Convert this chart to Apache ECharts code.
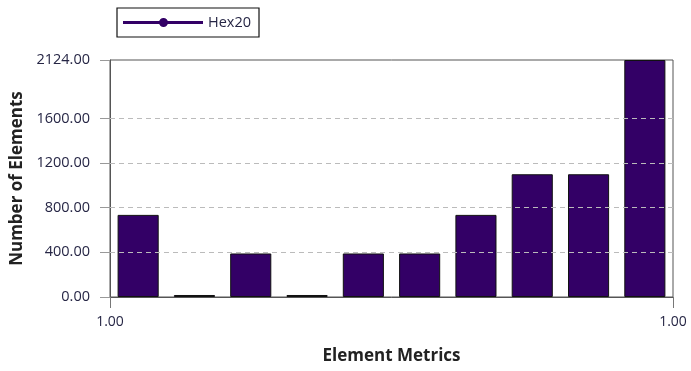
<!DOCTYPE html>
<html><head><meta charset="utf-8">
<script src="https://cdn.jsdelivr.net/npm/echarts@6/dist/echarts.min.js"></script>
<style>html,body{margin:0;padding:0;background:#fff}#c{width:691px;height:371px}</style>
</head><body><div id="c"></div>
<script>
var categories = ['b1','b2','b3','b4','b5','b6','b7','b8','b9','b10'];
var hex20 = [736, 18, 390, 18, 390, 390, 736, 1100, 1100, 2124];
var yTicks = [0, 400, 800, 1200, 1600, 2124];
var gridValues = [400, 800, 1200, 1600];
var xEndLabel = '1.00';
var seriesName = 'Hex20';

var chart = echarts.init(document.getElementById('c'));
var font = '"Open Sans", "Noto Sans", sans-serif';
var txt = '#262645';
chart.setOption({
  animation: false,
  textStyle: {fontFamily: font},
  legend: {
    left: 117, top: 8,
    padding: [7, 8, 7, 6],
    borderColor: '#111', borderWidth: 1.2,
    itemWidth: 80, itemHeight: 9, itemGap: 5,
    textStyle: {fontSize: 14.5, color: txt, fontFamily: font},
    data: [{name: seriesName, icon: 'path://M0,3 L80,3 L80,6 L0,6 Z M36,4.5 A4.5,4.5 0 1 1 45,4.5 A4.5,4.5 0 1 1 36,4.5 Z',
      itemStyle: {color: '#330066', borderColor: '#330066', borderWidth: 0}}]
  },
  grid: {left: 110, right: 18, top: 60, bottom: 74, show: true, borderColor: '#555', borderWidth: 1},
  xAxis: [{
    type: 'category', data: categories, position: 'bottom',
    axisLine: {lineStyle: {color: '#555'}}, axisTick: {show: false}, axisLabel: {show: false},
    name: 'Element Metrics', nameLocation: 'middle', nameGap: 51,
    nameTextStyle: {fontSize: 17, fontWeight: 'bold', color: '#222', fontFamily: font}
  }, {
    type: 'value', min: 0, max: 1, interval: 1, position: 'bottom',
    axisLine: {show: false}, splitLine: {show: false},
    axisTick: {show: true, length: 11, lineStyle: {color: '#777'}},
    axisLabel: {formatter: function () { return xEndLabel; }, fontSize: 14, color: txt, margin: 18, fontFamily: font}
  }],
  yAxis: {
    type: 'value', min: 0, max: 2124,
    axisLine: {show: true, lineStyle: {color: '#555'}},
    axisTick: {show: true, length: 10, customValues: yTicks, lineStyle: {color: '#999'}},
    axisLabel: {customValues: yTicks, margin: 20, fontSize: 14.5, color: txt, fontFamily: font,
      formatter: function (v) { return v.toFixed(2); }},
    splitLine: {show: false},
    name: 'Number of Elements', nameLocation: 'middle', nameGap: 82,
    nameTextStyle: {fontSize: 17, fontWeight: 'bold', color: '#222', fontFamily: font}
  },
  series: [{
    name: seriesName, type: 'bar', data: hex20, xAxisIndex: 0,
    barCategoryGap: '27%',
    itemStyle: {color: '#330066', borderColor: '#111', borderWidth: 1},
    markLine: {
      silent: true, symbol: ['none', 'none'], label: {show: false},
      lineStyle: {color: '#bbb', type: [5, 4], width: 1.2},
      data: gridValues.map(function (v) { return {yAxis: v}; })
    },
    z: 3
  }]
});
</script></body></html>
